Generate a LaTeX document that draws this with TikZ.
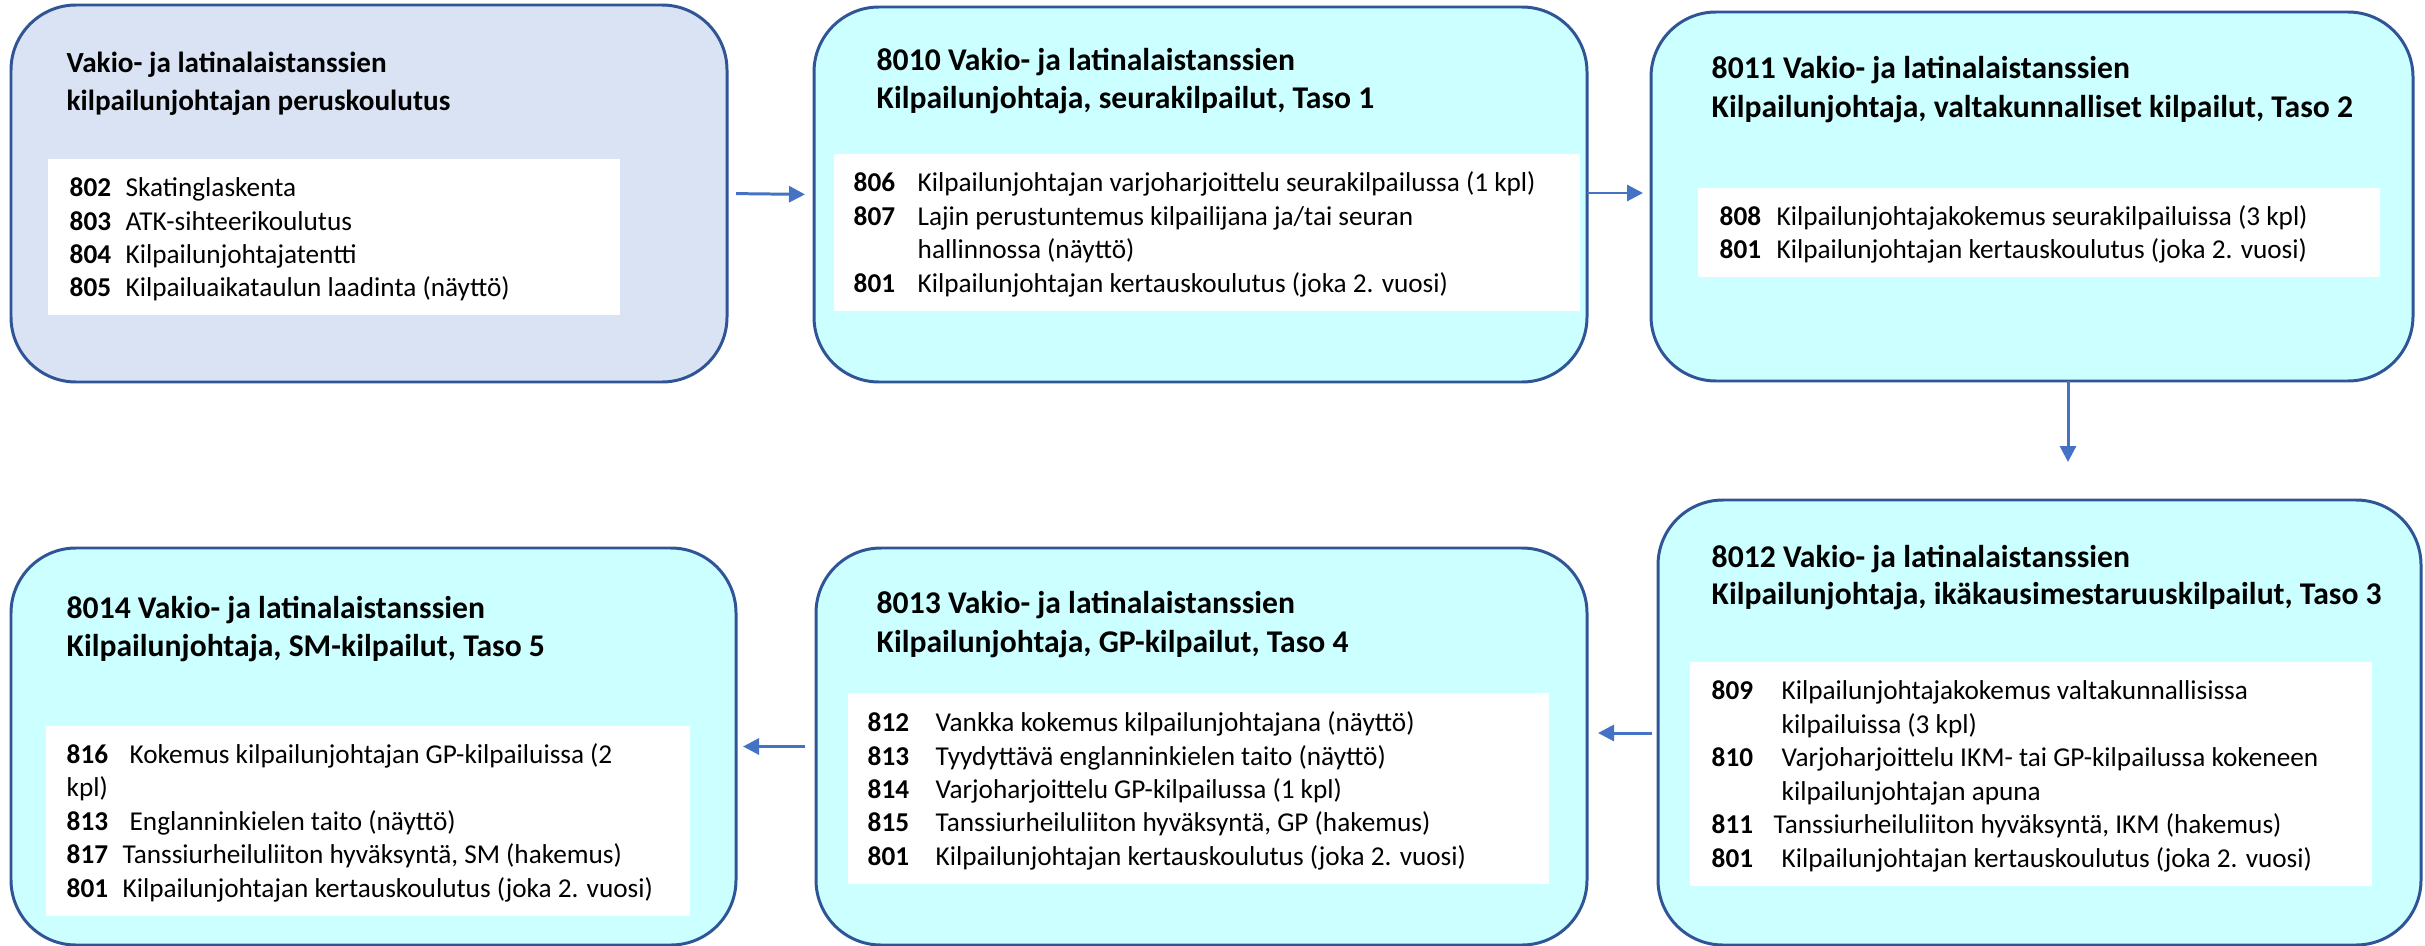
\documentclass[tikz,border=0pt]{standalone}
\usepackage{fontspec}
\setmainfont{Carlito}
\usetikzlibrary{arrows.meta,fit}
\definecolor{bordc}{HTML}{2F5597}
\definecolor{arrc}{HTML}{4472C4}
\definecolor{lav}{HTML}{DAE3F3}
\definecolor{cyanl}{HTML}{CCFFFF}
\newcommand{\itm}[3]{\makebox[#1][l]{\bfseries #2}#3}
\begin{document}
\begin{tikzpicture}[x=0.1mm,y=-0.1mm,
  card/.style={draw=bordc, line width=0.85pt, rounded corners=6.5mm, inner sep=0pt, outer sep=0pt, fill=cyanl},
  panel/.style={fill=white, draw=none, inner sep=0pt, outer sep=0pt},
  ttl/.style={anchor=base west, inner sep=0pt, font=\fontsize{9pt}{11pt}\selectfont\bfseries},
  ttlone/.style={anchor=base west, inner sep=0pt, font=\fontsize{8.3pt}{10pt}\selectfont\bfseries},
  itx/.style={anchor=base west, inner sep=0pt, font=\fontsize{7.75pt}{9.5pt}\selectfont},
  conn/.style={draw=arrc, line width=0.85pt, -{Triangle[length=1.6mm,width=1.6mm]}}
]
\useasboundingbox (0,0) rectangle (2425,946);
\clip (0,0) rectangle (2425,946);

% cards
\node[card, fill=lav, fit={(11,5)(727,382)}] (b1) {};
\node[card, fit={(814,7)(1587,382)}] (b2) {};
\node[card, fit={(1651,12)(2413,381)}] (b3) {};
\node[card, fit={(1658,500)(2421,945)}] (b4) {};
\node[card, fit={(816,548)(1587,945)}] (b5) {};
\node[card, fit={(11,548)(736,945)}] (b6) {};

% white panels
\node[panel, fit={(48,159)(620,315)}] (p1) {};
\node[panel, fit={(834,154)(1580,311)}] (p2) {};
\node[panel, fit={(1698,188)(2380,277)}] (p3) {};
\node[panel, fit={(1690,662)(2372,886)}] (p4) {};
\node[panel, fit={(848,693)(1549,884)}] (p5) {};
\node[panel, fit={(46,726)(690,916)}] (p6) {};

% box 1
\node[ttlone] (t1a) at (66,73) {Vakio- ja latinalaistanssien};
\node[ttlone] (t1b) at (66,110) {kilpailunjohtajan peruskoulutus};
\node[itx] (i1a) at (69,196) {\itm{5.6mm}{802}{Skatinglaskenta}};
\node[itx] (i1b) at (69,230) {\itm{5.6mm}{803}{ATK-sihteerikoulutus}};
\node[itx] (i1c) at (69,263) {\itm{5.6mm}{804}{Kilpailunjohtajatentti}};
\node[itx] (i1d) at (69,296) {\itm{5.6mm}{805}{Kilpailuaikataulun laadinta (näyttö)}};

% box 2
\node[ttl] (t2a) at (876,70) {8010 Vakio- ja latinalaistanssien};
\node[ttl] (t2b) at (876,108) {Kilpailunjohtaja, seurakilpailut, Taso 1};
\node[itx] (i2a) at (853,191) {\itm{6.4mm}{806}{Kilpailunjohtajan varjoharjoittelu seurakilpailussa (1 kpl)}};
\node[itx] (i2b) at (853,225) {\itm{6.4mm}{807}{Lajin perustuntemus kilpailijana ja/tai seuran}};
\node[itx] (i2c) at (917,258) {hallinnossa (näyttö)};
\node[itx] (i2d) at (853,292) {\itm{6.4mm}{801}{Kilpailunjohtajan kertauskoulutus (joka 2. vuosi)}};

% box 3
\node[ttl] (t3a) at (1711,78) {8011 Vakio- ja latinalaistanssien};
\node[ttl] (t3b) at (1711,117) {Kilpailunjohtaja, valtakunnalliset kilpailut, Taso 2};
\node[itx] (i3a) at (1719,225) {\itm{5.7mm}{808}{Kilpailunjohtajakokemus seurakilpailuissa (3 kpl)}};
\node[itx] (i3b) at (1719,258) {\itm{5.7mm}{801}{Kilpailunjohtajan kertauskoulutus (joka 2. vuosi)}};

% box 4
\node[ttl] (t4a) at (1711,567) {8012 Vakio- ja latinalaistanssien};
\node[ttl] (t4b) at (1711,604) {Kilpailunjohtaja, ikäkausimestaruuskilpailut, Taso 3};
\node[itx] (i4a) at (1711,699) {\itm{7.0mm}{809}{Kilpailunjohtajakokemus valtakunnallisissa}};
\node[itx] (i4b) at (1781,733) {kilpailuissa (3 kpl)};
\node[itx] (i4c) at (1711,766) {\itm{7.0mm}{810}{Varjoharjoittelu IKM- tai GP-kilpailussa kokeneen}};
\node[itx] (i4d) at (1781,800) {kilpailunjohtajan apuna};
\node[itx] (i4e) at (1711,833) {\itm{6.2mm}{811}{Tanssiurheiluliiton hyväksyntä, IKM (hakemus)}};
\node[itx] (i4f) at (1711,867) {\itm{7.0mm}{801}{Kilpailunjohtajan kertauskoulutus (joka 2. vuosi)}};

% box 5
\node[ttl] (t5a) at (876,613) {8013 Vakio- ja latinalaistanssien};
\node[ttl] (t5b) at (876,652) {Kilpailunjohtaja, GP-kilpailut, Taso 4};
\node[itx] (i5a) at (867,731) {\itm{6.8mm}{812}{Vankka kokemus kilpailunjohtajana (näyttö)}};
\node[itx] (i5b) at (867,765) {\itm{6.8mm}{813}{Tyydyttävä englanninkielen taito (näyttö)}};
\node[itx] (i5c) at (867,798) {\itm{6.8mm}{814}{Varjoharjoittelu GP-kilpailussa (1 kpl)}};
\node[itx] (i5d) at (867,831) {\itm{6.8mm}{815}{Tanssiurheiluliiton hyväksyntä, GP (hakemus)}};
\node[itx] (i5e) at (867,865) {\itm{6.8mm}{801}{Kilpailunjohtajan kertauskoulutus (joka 2. vuosi)}};

% box 6
\node[ttl] (t6a) at (66,618) {8014 Vakio- ja latinalaistanssien};
\node[ttl] (t6b) at (66,656) {Kilpailunjohtaja, SM-kilpailut, Taso 5};
\node[itx] (i6a) at (66,763) {\itm{6.3mm}{816}{Kokemus kilpailunjohtajan GP-kilpailuissa (2}};
\node[itx] (i6b) at (66,796) {kpl)};
\node[itx] (i6c) at (66,830) {\itm{6.3mm}{813}{Englanninkielen taito (näyttö)}};
\node[itx] (i6d) at (66,863) {\itm{5.6mm}{817}{Tanssiurheiluliiton hyväksyntä, SM (hakemus)}};
\node[itx] (i6e) at (66,897) {\itm{5.6mm}{801}{Kilpailunjohtajan kertauskoulutus (joka 2. vuosi)}};

% connectors
\draw[conn, shorten <=0.9mm, shorten >=0.9mm] (b1.east) -- (b2.west);
\coordinate (a2s) at ([yshift=0.15mm]b2.east);
\draw[conn, shorten >=0.8mm] (a2s) -- (a2s -| b3.west);
\coordinate (a3s) at ([xshift=3.6mm]b3.south);
\draw[conn, shorten >=3.8mm] (a3s) -- (a3s |- b4.north);
\coordinate (a4s) at ([yshift=-1.05mm]b4.west);
\draw[conn, shorten <=0.6mm, shorten >=1.1mm] (a4s) -- (a4s -| b5.east);
\draw[conn, shorten <=1.1mm, shorten >=0.7mm] (b5.west) -- (b6.east);
\end{tikzpicture}
\end{document}
